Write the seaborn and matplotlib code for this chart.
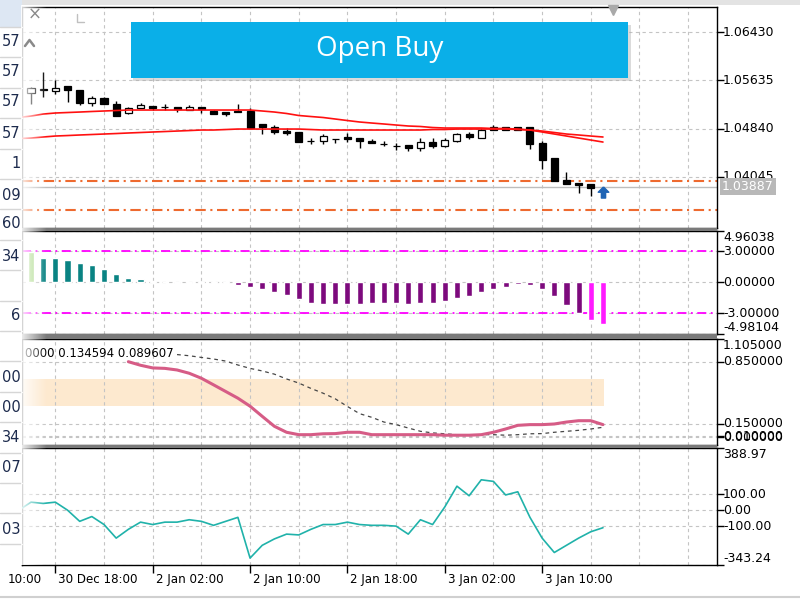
import numpy as np
import matplotlib
matplotlib.use("Agg")
import matplotlib.pyplot as plt
import matplotlib.transforms as mtransforms
from matplotlib.patches import Rectangle
from matplotlib.lines import Line2D
from matplotlib.path import Path
import seaborn as sns

sns.set_theme(style="white")
plt.rcParams['font.family'] = ['DejaVu Sans']

# ---------------- data ----------------
bar_index = list(range(47))
opens = [1.05426, 1.05475, 1.05459, 1.05541, 1.05475, 1.05261, 1.05344, 1.05245, 1.05097, 1.05179,
         1.05212, 1.05196, 1.05196, 1.05146, 1.05196, 1.05130, 1.05113, 1.05122, 1.05130, 1.04916,
         1.04866, 1.04800, 1.04784, 1.04636, 1.04636, 1.04677, 1.04702, 1.04685, 1.04636, 1.04587,
         1.04554, 1.04570, 1.04521, 1.04619, 1.04554, 1.04636, 1.04751, 1.04685, 1.04866, 1.04866,
         1.04866, 1.04866, 1.04603, 1.04356, 1.03994, 1.03945, 1.03928]
highs = [1.05525, 1.05772, 1.05640, 1.05541, 1.05475, 1.05377, 1.05360, 1.05294, 1.05196, 1.05261,
         1.05212, 1.05245, 1.05196, 1.05228, 1.05196, 1.05146, 1.05113, 1.05245, 1.05179, 1.04916,
         1.04899, 1.04850, 1.04784, 1.04685, 1.04751, 1.04677, 1.04768, 1.04685, 1.04669, 1.04636,
         1.04603, 1.04570, 1.04685, 1.04685, 1.04685, 1.04768, 1.04784, 1.04850, 1.04899, 1.04866,
         1.04866, 1.04866, 1.04636, 1.04356, 1.04126, 1.03945, 1.03928]
lows = [1.05245, 1.05360, 1.05409, 1.05278, 1.05228, 1.05212, 1.05245, 1.05047, 1.05080, 1.05179,
        1.05146, 1.05146, 1.05113, 1.05146, 1.05097, 1.05080, 1.05047, 1.05113, 1.04850, 1.04751,
        1.04751, 1.04735, 1.04619, 1.04587, 1.04587, 1.04603, 1.04619, 1.04521, 1.04603, 1.04554,
        1.04488, 1.04471, 1.04471, 1.04521, 1.04537, 1.04619, 1.04669, 1.04685, 1.04817, 1.04817,
        1.04817, 1.04504, 1.04175, 1.03978, 1.03928, 1.03780, 1.03731]
closes = [1.05508, 1.05484, 1.05508, 1.05475, 1.05261, 1.05344, 1.05245, 1.05047, 1.05179, 1.05228,
          1.05179, 1.05196, 1.05163, 1.05196, 1.05163, 1.05080, 1.05080, 1.05113, 1.04850, 1.04866,
          1.04784, 1.04768, 1.04619, 1.04636, 1.04718, 1.04669, 1.04669, 1.04636, 1.04603, 1.04587,
          1.04554, 1.04521, 1.04619, 1.04554, 1.04652, 1.04751, 1.04702, 1.04817, 1.04817, 1.04817,
          1.04817, 1.04587, 1.04323, 1.03978, 1.03928, 1.03920, 1.03862]

ma_index = list(range(-1, 48))
ma_a = [1.05023, 1.05047, 1.05080, 1.05097, 1.05105, 1.05113, 1.05122, 1.05130, 1.05138,
        1.05146, 1.05146, 1.05146, 1.05146, 1.05146, 1.05146, 1.05146, 1.05146, 1.05146, 1.05146, 1.05146,
        1.05130, 1.05113, 1.05089, 1.05056, 1.05039, 1.05023, 1.04998, 1.04973, 1.04949, 1.04932,
        1.04916, 1.04899, 1.04883, 1.04875, 1.04858, 1.04850, 1.04850, 1.04850, 1.04850, 1.04842,
        1.04842, 1.04833, 1.04817, 1.04800, 1.04776, 1.04751, 1.04735, 1.04718, 1.04702]
ma_b = [1.04677, 1.04685, 1.04702, 1.04718, 1.04726, 1.04735, 1.04743, 1.04751, 1.04759, 1.04768,
        1.04776, 1.04784, 1.04792, 1.04800, 1.04808, 1.04817, 1.04817, 1.04825, 1.04833, 1.04833,
        1.04833, 1.04833, 1.04833, 1.04833, 1.04825, 1.04817, 1.04817, 1.04817, 1.04817, 1.04817,
        1.04817, 1.04817, 1.04817, 1.04817, 1.04825, 1.04825, 1.04833, 1.04833, 1.04833, 1.04833,
        1.04833, 1.04825, 1.04817, 1.04784, 1.04751, 1.04718, 1.04685, 1.04652, 1.04619]

price_ticks = [1.06430, 1.05635, 1.04840, 1.04045]
price_tick_labels = ["1.06430", "1.05635", "1.04840", "1.04045"]
price_range = (1.03204, 1.06842)
current_price = 1.03887
current_price_label = "1.03887"
level_upper = 1.03978
level_lower = 1.03500
arrow_bar = 47
arrow_price = 1.03790

hist_index = list(range(48))
hist_values = [2.9, 2.38, 2.38, 2.14, 1.83, 1.67, 1.3, 0.84, 0.46, 0.28, 0.15, 0.03,
               -0.05, -0.02, -0.02, -0.05, -0.05, -0.25, -0.4, -0.65, -0.96, -1.24, -1.64, -1.95,
               -2.1, -2.1, -2.1, -2.1, -2.0, -1.95, -1.95, -2.1, -1.95, -1.95, -1.8, -1.5,
               -1.33, -0.96, -0.65, -0.4, -0.12, -0.25, -0.65, -1.33, -2.2, -2.94, -3.65, -4.0]
hist_colors = (["#a3d67e"] + ["#0a8383"] * 11 + ["#7d0a7d"] * 34 + ["#ff1aff"] * 2)
hist_levels = [3.0, -3.0]
hist_ticks = [4.96038, 3.0, 0.0, -3.0, -4.98104]
hist_tick_labels = ["4.96038", "3.00000", "0.00000", "-3.00000", "-4.98104"]

stoch_main_index = list(range(8, 48))
stoch_main = [0.85, 0.81, 0.78, 0.775, 0.757, 0.72, 0.664, 0.59, 0.515, 0.44, 0.35, 0.236, 0.124,
              0.057, 0.03, 0.03, 0.04, 0.042, 0.057, 0.057, 0.03, 0.03, 0.03, 0.03, 0.03, 0.03,
              0.024, 0.024, 0.024, 0.03, 0.057, 0.094, 0.135, 0.143, 0.143, 0.15, 0.172, 0.187,
              0.187, 0.143]
stoch_signal_index = list(range(12, 48))
stoch_signal = [0.93, 0.917, 0.898, 0.88, 0.857, 0.813, 0.775, 0.746, 0.71, 0.656, 0.61, 0.55,
                0.496, 0.433, 0.347, 0.266, 0.225, 0.172, 0.143, 0.105, 0.068, 0.05, 0.04, 0.03,
                0.03, 0.03, 0.03, 0.024, 0.03, 0.04, 0.042, 0.057, 0.068, 0.079, 0.094, 0.113]
stoch_band = (0.35, 0.65)
stoch_band_end_bar = 47.1
stoch_range = (-0.086, 1.105)
stoch_ticks = [1.105, 0.85, 0.15, 0.01, 0.0]
stoch_tick_labels = ["1.105000", "0.850000", "0.150000", "0.010000", "0.000000"]
stoch_label = "0000 0.134594 0.089607"

cci_index = list(range(-1, 48))
cci_values = [0, 50, 42, 50, 0, -70, -40, -90, -175, -120, -75, -90, -75, -75, -60, -70, -95,
              -70, -45, -300, -220, -180, -150, -155, -120, -90, -90, -75, -90, -95, -95, -100,
              -150, -60, -90, 20, 150, 90, 190, 180, 95, 115, -45, -175, -265, -220, -175, -135, -110]
cci_range = (-343.24, 388.97)
cci_ticks = [388.97, 100.0, 0.0, -100.0, -343.24]
cci_tick_labels = ["388.97", "100.00", "0.00", "-100.00", "-343.24"]

grid_bars = list(range(-2, 57, 4))
time_label_bars = [-6, 2, 10, 18, 26, 34, 42]
time_labels = ["10:00", "30 Dec 18:00", "2 Jan 02:00", "2 Jan 10:00",
               "2 Jan 18:00", "3 Jan 02:00", "3 Jan 10:00"]
time_label_shift_px = [50, 3, 3, 3, 3, 3, 3]
x_range = (-0.74, 56.37)

sidebar_texts = ["57", "57", "57", "57", "1", "09", "60", "34", "6", "00", "00", "34", "07", "03"]
sidebar_rows = [42, 72, 102, 133, 163, 195, 224, 256, 316, 377, 408, 437, 467, 529]

# ---------------- layout ----------------
W, H = 800, 600
fig = plt.figure(figsize=(W / 100, H / 100), dpi=100)
fig.patch.set_facecolor("white")

def fx(px):
    return px / W

def fy(py):
    return 1 - py / H

L_PX, R_PX = 22, 717

def add_panel(top, bottom):
    ax = fig.add_axes([fx(L_PX), fy(bottom), fx(R_PX - L_PX), (bottom - top) / H])
    ax.set_facecolor("white")
    for s in ax.spines.values():
        s.set_visible(True)
        s.set_color("black")
        s.set_linewidth(1.0)
    ax.set_xlim(*x_range)
    return ax

ax1 = add_panel(7, 228)
ax2 = add_panel(231, 334)
ax3 = add_panel(339, 445)
ax4 = add_panel(448, 565)

GRID_KW = dict(color="#c4c4c4", linestyle=(0, (3, 3)), linewidth=0.8)

def style_axis(ax, yticks, ylim, labels, vas, xmajor=None):
    ax.set_ylim(*ylim)
    ax.yaxis.tick_right()
    ax.set_yticks(yticks)
    ax.tick_params(axis="y", which="both", right=True, left=False, direction="out",
                   length=5, width=1, color="black", labelright=False, labelleft=False)
    if xmajor is None:
        ax.set_xticks(grid_bars)
        ax.tick_params(axis="x", which="both", bottom=False, labelbottom=False)
    else:
        ax.set_xticks(xmajor)
        ax.set_xticks(grid_bars, minor=True)
        ax.tick_params(axis="x", which="major", bottom=True, direction="out", length=6,
                       width=1, color="black", labelbottom=False)
        ax.tick_params(axis="x", which="minor", bottom=False, labelbottom=False)
    ax.set_xlim(*x_range)
    ax.grid(True, which="both", axis="x", **GRID_KW)
    ax.grid(True, which="major", axis="y", **GRID_KW)
    ax.set_axisbelow(True)
    ax.set_xlabel("")
    ax.set_ylabel("")
    trans = mtransforms.offset_copy(ax.get_yaxis_transform(), fig=fig, x=6, y=0, units="dots")
    for v, t, va in zip(yticks, labels, vas):
        ax.text(1.0, v, t, transform=trans, ha="left", va=va, fontsize=9,
                color="black", clip_on=False)

# ---------------- main price panel ----------------
ax1.axhline(level_upper, color="#ee6a2f", lw=1.5, ls=(0, (5, 2.2, 1, 2.2)), zorder=2)
ax1.axhline(level_lower, color="#ee6a2f", lw=1.5, ls=(0, (5, 2.2, 1, 2.2)), zorder=2)
ax1.axhline(current_price, color="#bdbdbd", lw=1.0, zorder=2)

for i, o, h, l, c in zip(bar_index, opens, highs, lows, closes):
    ax1.vlines(i, l, h, color="black", lw=1.0, zorder=3)
    bull = c > o
    ax1.add_patch(Rectangle((i - 0.29, min(o, c)), 0.58, abs(c - o),
                            facecolor="white" if bull else "black",
                            edgecolor="black", lw=0.9, zorder=4))

sns.lineplot(x=ma_index, y=ma_a, ax=ax1, color="#ff1010", linewidth=1.2,
             estimator=None, sort=False, zorder=5)
sns.lineplot(x=ma_index, y=ma_b, ax=ax1, color="#ff1010", linewidth=1.2,
             estimator=None, sort=False, zorder=5)

arrow_marker = Path([(0, 1), (0.95, 0.05), (0.38, 0.05), (0.38, -1), (-0.38, -1),
                     (-0.38, 0.05), (-0.95, 0.05), (0, 1)])
ax1.plot([arrow_bar], [arrow_price], marker=arrow_marker, markersize=8,
         color="#1f64b4", linestyle="none", zorder=6)

style_axis(ax1, price_ticks, price_range, price_tick_labels, ["center"] * 4)
trans_cp = mtransforms.offset_copy(ax1.get_yaxis_transform(), fig=fig, x=5, y=0, units="dots")
ax1.text(1.0, current_price, current_price_label, transform=trans_cp, ha="left", va="center",
         fontsize=9, color="white", clip_on=False, zorder=10,
         bbox=dict(boxstyle="square,pad=0.18", fc="#b8b8b8", ec="none"))

# ---------------- histogram panel ----------------
ax2.bar(hist_index, hist_values, width=0.5, color=hist_colors, zorder=3)
for lv in hist_levels:
    ax2.axhline(lv, color="#ff00ff", lw=1.3, ls=(0, (5, 2.5, 1, 2.5)), zorder=2)
style_axis(ax2, hist_ticks, (hist_ticks[-1], hist_ticks[0]), hist_tick_labels,
           ["top", "center", "center", "center", "bottom"])

# ---------------- stochastic panel ----------------
ax3.add_patch(Rectangle((x_range[0], stoch_band[0]), stoch_band_end_bar - x_range[0],
                        stoch_band[1] - stoch_band[0], facecolor="#fde9cf",
                        edgecolor="none", zorder=0.2))
sns.lineplot(x=stoch_signal_index, y=stoch_signal, ax=ax3, color="#474747", linewidth=0.9,
             linestyle=(0, (3, 3)), estimator=None, sort=False, zorder=3)
sns.lineplot(x=stoch_main_index, y=stoch_main, ax=ax3, color="#d65c86", linewidth=2.2,
             estimator=None, sort=False, zorder=4)
style_axis(ax3, stoch_ticks, stoch_range, stoch_tick_labels,
           ["top", "center", "center", "center", "center"])
ax3.text(0, 1, stoch_label, transform=mtransforms.offset_copy(ax3.transAxes, fig=fig, x=3,
         y=-14, units="dots"), ha="left", va="center", fontsize=8.5, color="black", zorder=6)

# ---------------- CCI panel ----------------
sns.lineplot(x=cci_index, y=cci_values, ax=ax4, color="#20b2aa", linewidth=1.2,
             estimator=None, sort=False, zorder=3)
style_axis(ax4, cci_ticks, cci_range, cci_tick_labels,
           ["top", "center", "center", "center", "bottom"], xmajor=time_label_bars[1:])
for b, t, sh in zip(time_label_bars, time_labels, time_label_shift_px):
    trans_t = mtransforms.offset_copy(ax4.get_xaxis_transform(), fig=fig, x=sh, y=-8,
                                      units="dots")
    ax4.text(b, 0, t, transform=trans_t, ha="left", va="top", fontsize=8.6, color="black",
             clip_on=False)

# ---------------- window chrome ----------------
for top, bottom in [(228, 231), (334, 339), (445, 448)]:
    fig.patches.append(Rectangle((fx(L_PX), fy(bottom)), fx(R_PX - L_PX), (bottom - top) / H,
                                 transform=fig.transFigure, facecolor="#7a7a7a",
                                 edgecolor="none", zorder=2))
fig.patches.append(Rectangle((0, fy(5)), 1, 5 / H, transform=fig.transFigure,
                             facecolor="#e3e3e3", edgecolor="none", zorder=2))
fig.lines.append(Line2D([0, 1], [fy(597), fy(597)], transform=fig.transFigure,
                        color="#d0d0d0", lw=1.5))

# left gradient shadow
gax = fig.add_axes([fx(L_PX - 1), fy(565), fx(26), (565 - 5) / H], zorder=10)
grad = np.ones((1, 60, 4))
grad[0, :, 3] = np.linspace(0.88, 0.0, 60)
gax.imshow(grad, aspect="auto", extent=[0, 1, 0, 1], interpolation="bilinear")
gax.axis("off")

# left side list
fig.patches.append(Rectangle((0, fy(565)), fx(L_PX), 565 / H, transform=fig.transFigure,
                             facecolor="white", edgecolor="none", zorder=3))
fig.patches.append(Rectangle((0, fy(27)), fx(L_PX), 27 / H, transform=fig.transFigure,
                             facecolor="#dde7f3", edgecolor="none", zorder=3))
for k in range(18):
    yy = 27 + k * 30.4
    fig.lines.append(Line2D([0, fx(L_PX)], [fy(yy), fy(yy)], transform=fig.transFigure,
                            color="#d6d6d6", lw=1, zorder=4))
for t, r in zip(sidebar_texts, sidebar_rows):
    fig.text(fx(20.5), fy(r), t, ha="right", va="center", fontsize=10.5, color="#1d2b4d",
             zorder=5)

# chart window controls
fig.text(fx(35), fy(15), "×", ha="center", va="center", fontsize=12, color="#8a8a8a", zorder=12)
fig.lines.append(Line2D([fx(25), fx(29.5), fx(34)], [fy(46), fy(40), fy(46)],
                        transform=fig.transFigure, color="#8a8a8a", lw=1.8, zorder=12))
fig.lines.append(Line2D([fx(77), fx(77), fx(84)], [fy(14), fy(22), fy(22)],
                        transform=fig.transFigure, color="#c0c0c0", lw=1, zorder=12))
fig.lines.append(Line2D([fx(613)], [fy(10)], transform=fig.transFigure, marker="v",
                        markersize=7, color="#a9a9a9", linestyle="none", zorder=12))

# "Open Buy" button
bx0, bx1, by0, by1 = 131, 628, 22, 78
fig.patches.append(Rectangle((fx(bx0 + 2), fy(by1 + 3)), fx(bx1 - bx0 + 1), (by1 - by0) / H,
                             transform=fig.transFigure, facecolor="#b0b0b0", alpha=0.45,
                             edgecolor="none", zorder=13))
fig.patches.append(Rectangle((fx(bx0), fy(by1)), fx(bx1 - bx0), (by1 - by0) / H,
                             transform=fig.transFigure, facecolor="#0aafe8",
                             edgecolor="none", zorder=14))
fig.text(fx((bx0 + bx1) / 2), fy((by0 + by1) / 2 - 1), "Open Buy", ha="center", va="center",
         fontsize=20, color="white", family=["Open Sans", "DejaVu Sans"], zorder=15)

fig.savefig("out.png", dpi=100)
